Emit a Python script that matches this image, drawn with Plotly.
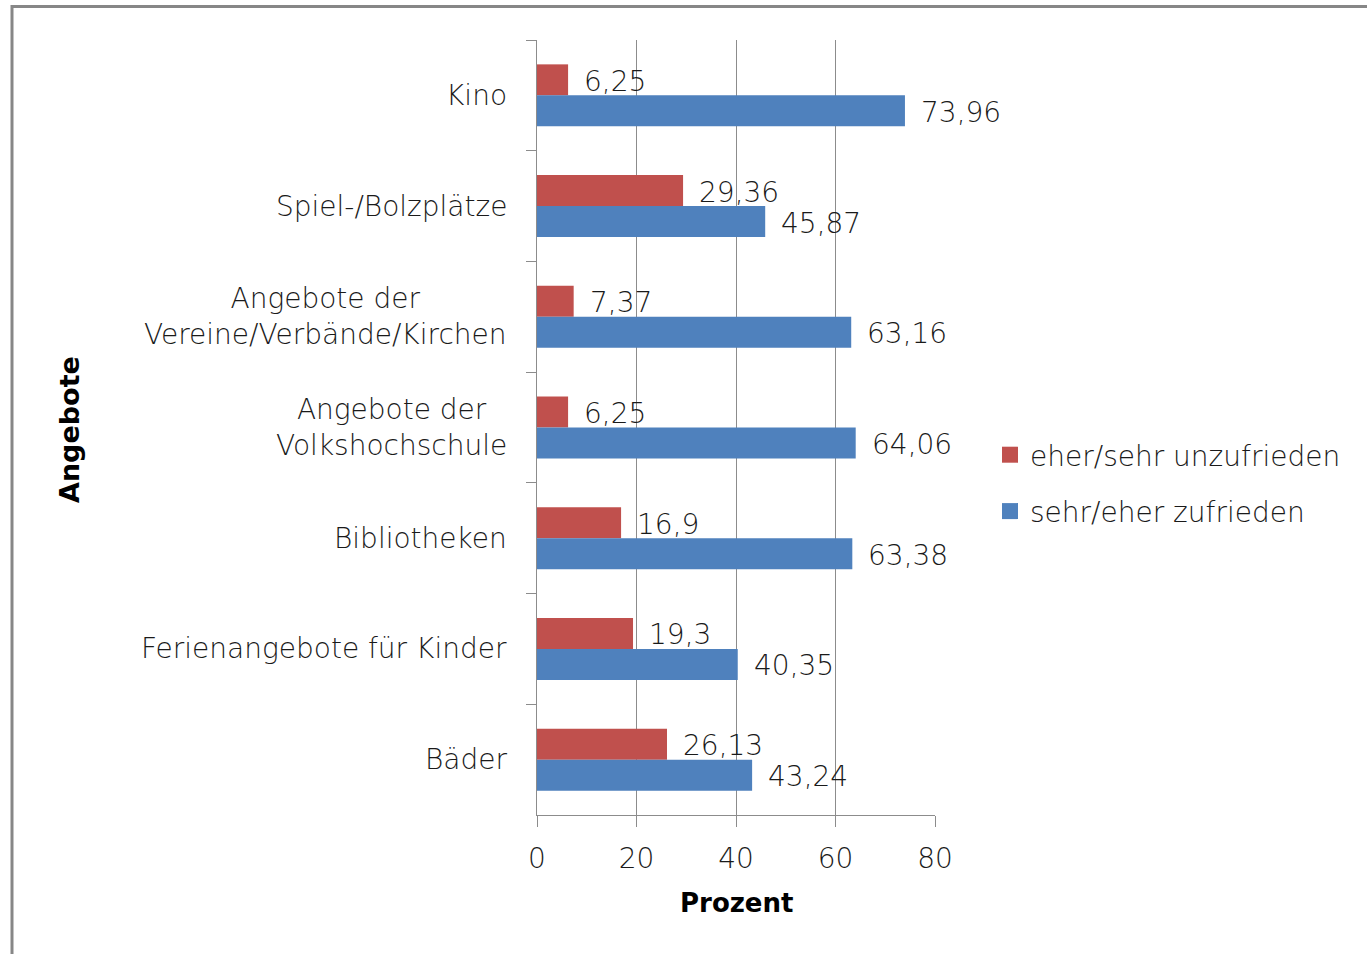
import plotly.graph_objects as go

categories = ["Kino", "Spiel-/Bolzplätze", "Angebote der<br>Vereine/Verbände/Kirchen",
              "Angebote der<br>Volkshochschule", "Bibliotheken",
              "Ferienangebote für Kinder", "Bäder"]
unzufrieden = [6.25, 29.36, 7.37, 6.25, 16.9, 19.3, 26.13]
zufrieden = [73.96, 45.87, 63.16, 64.06, 63.38, 40.35, 43.24]
series_names = ["eher/sehr unzufrieden", "sehr/eher zufrieden"]
x_ticks = [0, 20, 40, 60, 80]

FONT = "DejaVu Sans"
RED = "#C0504D"
BLUE = "#4F81BD"
TXT = "#1a1a1a"
FS = 28
WT = 200

W, H = 1367, 954
L, R, T, B = 537, 935, 40, 815

def pxx(x):
    return (x - L) / (R - L)

def pxy(y):
    return (B - y) / (B - T)

def fmt(v):
    return ("%g" % v).replace(".", ",")

def tfont(size=FS):
    return dict(family=FONT, size=size, color=TXT, weight=WT)

fig = go.Figure()
fig.add_trace(go.Bar(y=categories, x=unzufrieden, orientation="h", name=series_names[0],
                     marker=dict(color=RED, line=dict(width=0)), showlegend=False))
fig.add_trace(go.Bar(y=categories, x=zufrieden, orientation="h", name=series_names[1],
                     marker=dict(color=BLUE, line=dict(width=0)), showlegend=False))
# legend entries with larger square symbols
for nm, col in zip(series_names, [RED, BLUE]):
    fig.add_trace(go.Scatter(x=[None], y=[None], mode="markers", name=nm,
                             marker=dict(symbol="square", size=16, color=col),
                             legendgroup=nm, showlegend=True))

annotations = []
for cat, a, b in zip(categories, unzufrieden, zufrieden):
    annotations.append(dict(x=a, y=cat, xref="x", yref="y", text=fmt(a), showarrow=False,
                            xanchor="left", yanchor="middle", xshift=14, yshift=14,
                            font=tfont()))
    annotations.append(dict(x=b, y=cat, xref="x", yref="y", text=fmt(b), showarrow=False,
                            xanchor="left", yanchor="middle", xshift=14, yshift=-17,
                            font=tfont()))
    annotations.append(dict(x=0, y=cat, xref="paper", yref="y", text=cat, showarrow=False,
                            xanchor="right", yanchor="middle", align="center", xshift=-28,
                            font=tfont()))

annotations.append(dict(x=pxx(70), y=pxy(430), xref="paper", yref="paper",
                        text="<b>Angebote</b>", textangle=-90, showarrow=False,
                        xanchor="center", yanchor="middle",
                        font=dict(family=FONT, size=27, color="#000")))
annotations.append(dict(x=pxx(736), y=pxy(903), xref="paper", yref="paper",
                        text="<b>Prozent</b>", showarrow=False,
                        xanchor="center", yanchor="middle",
                        font=dict(family=FONT, size=26, color="#000")))

fig.update_layout(
    width=W, height=H,
    margin=dict(l=L, r=W - R, t=T, b=H - B, autoexpand=False),
    paper_bgcolor="white", plot_bgcolor="white",
    barmode="group", bargap=0.44, bargroupgap=0,
    showlegend=True,
    legend=dict(x=pxx(990), y=pxy(483), xanchor="left", yanchor="middle",
                xref="paper", yref="paper", traceorder="grouped", tracegroupgap=17,
                font=tfont(), itemwidth=30, bgcolor="rgba(0,0,0,0)"),
    xaxis=dict(range=[0, 80], tickvals=x_ticks, ticktext=[str(t) for t in x_ticks],
               showgrid=True, gridcolor="#8c8c8c", gridwidth=1.3,
               showline=True, linecolor="#8c8c8c", linewidth=1.3,
               ticks="outside", ticklen=11, tickcolor="#8c8c8c", tickwidth=1.3,
               ticklabelstandoff=7, zeroline=False,
               tickfont=tfont()),
    yaxis=dict(autorange="reversed", type="category", showticklabels=False,
               showline=True, linecolor="#8c8c8c", linewidth=1.3,
               ticks="outside", ticklen=10, tickcolor="#8c8c8c", tickwidth=1.3,
               tickson="boundaries", showgrid=False),
    annotations=annotations,
    shapes=[dict(type="rect", xref="paper", yref="paper",
                 x0=pxx(12), x1=pxx(1400), y0=pxy(990), y1=pxy(6.5),
                 line=dict(color="#878787", width=3), fillcolor="rgba(0,0,0,0)", layer="below")],
)

fig.write_html("out.html", config={"displayModeBar": False},
               post_script="document.body.style.margin='0';document.body.style.overflow='hidden';")
